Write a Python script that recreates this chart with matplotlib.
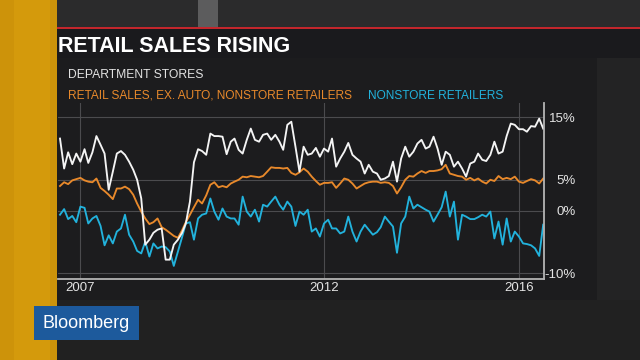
#!/usr/bin/env python3
"""Retail sales rising: department stores vs retail ex. auto vs nonstore retailers"""

from datetime import datetime
from matplotlib import pyplot as plt
from matplotlib.patches import Rectangle
import pandas as pd

W, H = 640, 360

# Year-over-year change, %, monthly from Aug 2006 to Jul 2016
months = pd.date_range("2006-08-01", periods=120, freq="MS")

department_stores = [
    11.6, 6.8, 9.4, 7.5, 9.2, 7.9, 9.9, 7.7, 9.4, 12.0,
    10.6, 9.2, 3.4, 6.3, 9.2, 9.6, 9.0, 7.9, 6.6, 5.0,
    2.0, -5.4, -4.6, -3.5, -3.0, -2.8, -7.8, -7.8, -5.4, -4.6,
    -3.5, -2.0, 1.5, 7.8, 9.9, 9.6, 9.0, 12.4, 12.0, 12.0,
    11.9, 9.1, 11.1, 11.6, 9.8, 9.2, 11.4, 13.2, 11.4, 11.1,
    12.2, 12.4, 11.4, 12.2, 11.1, 9.8, 13.8, 14.3, 10.3, 6.3,
    10.3, 9.0, 9.2, 10.1, 8.7, 10.0, 9.5, 11.6, 7.1, 8.4,
    9.5, 10.9, 9.0, 8.4, 7.9, 6.0, 7.4, 6.3, 6.0, 5.0,
    5.2, 5.6, 7.9, 4.7, 8.4, 10.3, 8.7, 9.5, 10.8, 11.4,
    10.0, 10.3, 11.9, 10.0, 7.4, 9.5, 9.0, 7.1, 7.9, 6.8,
    5.5, 7.6, 7.9, 9.2, 8.2, 8.0, 9.0, 11.1, 9.2, 9.5,
    12.0, 14.0, 13.8, 13.1, 13.1, 12.7, 13.6, 13.5, 14.8, 13.2,
]

retail_ex_auto = [
    4.0, 4.6, 4.3, 4.9, 5.1, 5.3, 4.9, 4.7, 4.6, 5.2,
    3.7, 3.2, 2.6, 1.9, 3.6, 3.6, 3.9, 3.5, 2.6, 1.2,
    -0.1, -1.2, -2.1, -1.8, -1.2, -2.6, -3.0, -3.5, -4.0, -4.3,
    -3.1, -1.8, -0.6, 0.6, 1.8, 1.2, 2.5, 4.2, 4.6, 3.8,
    4.0, 3.8, 4.4, 4.7, 5.0, 5.5, 5.4, 5.6, 5.5, 5.4,
    5.6, 6.3, 7.0, 6.9, 6.9, 6.8, 6.9, 6.1, 5.8, 6.2,
    6.8, 6.3, 5.5, 4.8, 4.2, 4.5, 4.5, 4.6, 3.7, 4.4,
    5.2, 5.0, 4.4, 3.6, 4.0, 4.4, 4.6, 4.7, 4.7, 4.5,
    4.6, 4.5, 4.0, 2.8, 3.8, 5.0, 5.6, 5.5, 6.0, 6.4,
    6.1, 6.4, 6.4, 6.5, 6.7, 7.4, 6.0, 5.8, 5.6, 5.5,
    5.0, 5.3, 4.9, 5.2, 4.7, 4.4, 5.0, 4.8, 5.6, 5.1,
    5.3, 5.1, 5.5, 4.7, 4.5, 4.8, 5.1, 4.9, 4.4, 5.2,
]

nonstore = [
    -0.6, 0.3, -1.3, -0.8, -1.8, 0.7, 0.5, -2.0, -1.2, -0.8,
    -2.4, -5.5, -3.9, -5.2, -3.3, -2.8, -0.6, -3.8, -4.9, -6.4,
    -6.8, -4.9, -7.3, -5.2, -6.0, -5.7, -5.8, -6.5, -8.8, -6.5,
    -4.2, -2.0, -1.8, -4.6, -1.2, -0.6, -0.4, 2.0, -0.1, -1.4,
    0.4, -0.9, -1.2, -1.2, -2.2, 2.3, -0.1, -0.9, 0.2, -1.7,
    1.0, 0.7, 1.5, 2.3, 1.0, 0.2, 1.5, 0.7, -2.4, -0.1,
    -0.6, 0.2, -3.3, -2.8, -4.1, -2.0, -1.4, -2.8, -2.8, -3.6,
    -3.3, -0.9, -3.3, -4.9, -3.3, -2.2, -3.0, -3.8, -3.4, -2.6,
    -0.9, -1.7, -2.5, -6.7, -2.0, -0.9, 2.3, 0.4, 1.0, 0.6,
    0.2, -0.1, -1.7, -0.6, 0.6, 3.1, -0.9, 1.5, -4.6, -0.6,
    -0.9, -1.3, -1.3, -1.0, -0.6, -0.9, -0.1, -4.4, -1.7, -5.4,
    -1.2, -4.9, -3.3, -4.1, -5.2, -5.3, -5.5, -6.0, -7.2, -2.2,
]

year_ticks = [datetime(2007, 1, 1), datetime(2012, 1, 1), datetime(2016, 1, 1)]
year_labels = ["2007", "2012", "2016"]
pct_ticks = [15, 5, 0, -10]
pct_labels = ["15%", "5%", "0%", "-10%"]

WHITE = "#f4f4f4"
ORANGE = "#e8892b"
BLUE = "#22b2dc"

plt.rcParams["font.family"] = ["Liberation Sans", "DejaVu Sans"]

fig = plt.figure(figsize=(W / 100, H / 100), dpi=100, facecolor="#212121")


def box(x0, y0, x1, y1, color):
    """Background block given in pixels from the top left corner"""
    fig.add_artist(Rectangle((x0 / W, 1 - y1 / H), (x1 - x0) / W, (y1 - y0) / H,
                             transform=fig.transFigure, color=color, lw=0, zorder=-5))


# TV backdrop
box(57, 0, 640, 27, "#2b2b2c")
box(198, 0, 218, 27, "#5c5c5d")
box(57, 300, 640, 360, "#212121")
box(597, 58, 640, 300, "#232324")
box(55, 26.5, 640, 29.5, "#c3262c")
box(55, 29.5, 640, 58, "#1a1a1d")
box(57, 58, 597, 300, "#1c1c1e")
box(0, 0, 57, 360, "#d49a0c")
box(0, 0, 14, 360, "#cd930a")
box(50, 0, 57, 360, "#cc930a")
box(34, 306, 139, 340, "#1d5a9c")

# Chart
ax = fig.add_axes([58 / W, 1 - 279 / H, (544 - 58) / W, (279 - 103) / H])
ax.set_facecolor("#1c1c1e")

ax.plot(months, nonstore, color=BLUE, lw=1.35)
ax.plot(months, retail_ex_auto, color=ORANGE, lw=1.35)
ax.plot(months, department_stores, color=WHITE, lw=1.35)

ax.set_xlim(months[0] - pd.Timedelta(days=15), months[-1] + pd.Timedelta(days=6))
ax.set_ylim(-10.9, 17.3)

ax.set_xticks(year_ticks, year_labels)
ax.set_yticks(pct_ticks, pct_labels)
ax.yaxis.tick_right()
ax.tick_params(axis="x", length=0, pad=2.5, labelsize=9.5, labelcolor="#e4e4e4")
ax.tick_params(axis="y", length=0, pad=23, labelsize=9.5, labelcolor="#e4e4e4")
for label in ax.get_yticklabels():
    label.set_horizontalalignment("right")

ax.grid(color="#4b4b4e", lw=0.8)
ax.set_axisbelow(True)
for side in ("left", "top"):
    ax.spines[side].set_visible(False)
for side in ("right", "bottom"):
    ax.spines[side].set_color("#b4b4b4")
    ax.spines[side].set_linewidth(1.3)

# Texts
fig.text(58 / W, 1 - 52 / H, "RETAIL SALES RISING", fontsize=15.5, weight="bold",
         color="white", va="baseline")
fig.text(68 / W, 1 - 78 / H, "DEPARTMENT STORES", fontsize=8.7, color="#e2e2e2",
         va="baseline")
fig.text(68 / W, 1 - 99 / H, "RETAIL SALES, EX. AUTO, NONSTORE RETAILERS", fontsize=8.6,
         color=ORANGE, va="baseline")
fig.text(368 / W, 1 - 99 / H, "NONSTORE RETAILERS", fontsize=8.6, color=BLUE,
         va="baseline")
fig.text(86 / W, 1 - 323 / H, "Bloomberg", fontsize=13, color="white",
         ha="center", va="center")

fig.savefig("out.png", dpi=100, facecolor=fig.get_facecolor())
